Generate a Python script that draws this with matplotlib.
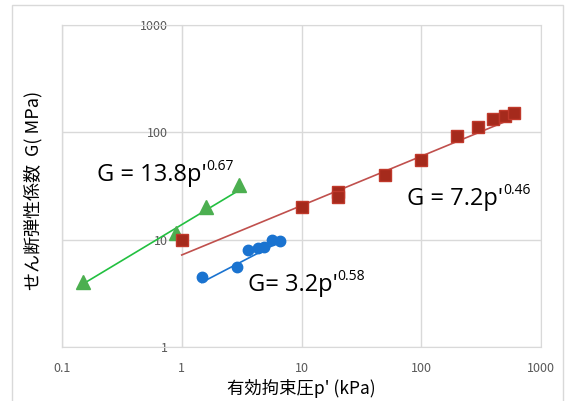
import matplotlib.pyplot as plt
from matplotlib.patches import Rectangle
import numpy as np

plt.rcParams['font.family'] = ['Noto Sans CJK JP', 'DejaVu Sans']

# measured points
p_green = [0.15, 0.9, 1.6, 3.0]
g_green = [4.0, 11.5, 20, 32]
p_red = [1, 10, 20, 20, 50, 100, 200, 300, 400, 500, 600]
g_red = [10, 20, 28, 25, 40, 55, 93, 111, 132, 141, 152]
p_blue = [1.47, 2.9, 3.55, 4.3, 4.9, 5.7, 6.6]
g_blue = [4.5, 5.6, 8.0, 8.4, 8.6, 10, 9.8]

# power-law fits G = a * p'^b
fit_green = (13.8, 0.67)
fit_red = (7.2, 0.46)
fit_blue = (3.2, 0.58)

xticks = [0.1, 1, 10, 100, 1000]
yticks = [1, 10, 100, 1000]

fig = plt.figure(figsize=(5.66, 4.01), dpi=100)
ax = fig.add_axes([62 / 566, 1 - 347 / 401, 479 / 566, 322 / 401])

# outer frame
fig.patches.append(Rectangle((12 / 566, -0.05), 551 / 566, 1.05 - 5 / 401,
                             transform=fig.transFigure, fill=False,
                             edgecolor='#d9d9d9', lw=1))

ax.set_xscale('log')
ax.set_yscale('log')
ax.set_xlim(0.1, 1000)
ax.set_ylim(1, 1000)


def trend(p, fit):
    xs = np.logspace(np.log10(min(p)), np.log10(max(p)), 50)
    return xs, fit[0] * xs ** fit[1]


ax.plot(*trend(p_green, fit_green), color='#22c040', lw=1.2, zorder=3)
ax.plot(*trend(p_red, fit_red), color='#c0504d', lw=1.2, zorder=3)
ax.plot(*trend(p_blue, fit_blue), color='#1a73d0', lw=1.2, zorder=3)

ax.plot(p_green, g_green, '^', color='#4caf50', ms=9.5, mec='#4caf50', zorder=4)
ax.plot(p_red, g_red, 's', color='#a52a1c', ms=9, mec='#c0392b', zorder=4)
ax.plot(p_blue, g_blue, 'o', color='#1a73d0', ms=7.5, zorder=4)

ax.set_xticks(xticks)
ax.set_xticklabels(['0.1', '1', '10', '100', '1000'])
ax.set_yticks(yticks)
ax.set_yticklabels(['1', '10', '100', '1000'])
ax.minorticks_off()
ax.tick_params(axis='x', length=0, pad=11, labelsize=9, labelcolor='#595959')
ax.tick_params(axis='y', length=0, pad=10, labelsize=9, labelcolor='#595959')
ax.grid(True, color='#d9d9d9', lw=1)
ax.set_axisbelow(True)

# vertical axis crosses at p' = 1
ax.spines['left'].set_position(('data', 1))
for s in ax.spines.values():
    s.set_color('#d9d9d9')
ax.axvline(0.1, color='#d9d9d9', lw=1, clip_on=False)

fig.text(301 / 566, 1 - 389 / 401, "有効拘束圧p' (kPa)", fontsize=12.5,
         ha='center', va='center')
fig.text(33 / 566, 1 - 190 / 401, "せん断弾性係数  G( MPa)", rotation=90,
         fontsize=13, ha='center', va='center')


def equation(x, y, base, power):
    t = ax.text(x, y, base, fontsize=17, ha='left', va='center',
                family=['Open Sans', 'DejaVu Sans'], transform=ax.transAxes)
    ax.annotate(power, xy=(1, 0.85), xycoords=t, fontsize=10,
                family=['Open Sans', 'DejaVu Sans'], ha='left', va='center')


equation((97 - 62) / 479, (347 - 175) / 322, "G = 13.8p'", "0.67")
equation((407 - 62) / 479, (347 - 199) / 322, "G = 7.2p'", "0.46")
equation((248 - 62) / 479, (347 - 285) / 322, "G= 3.2p'", "0.58")

fig.savefig('out.png', dpi=100)
